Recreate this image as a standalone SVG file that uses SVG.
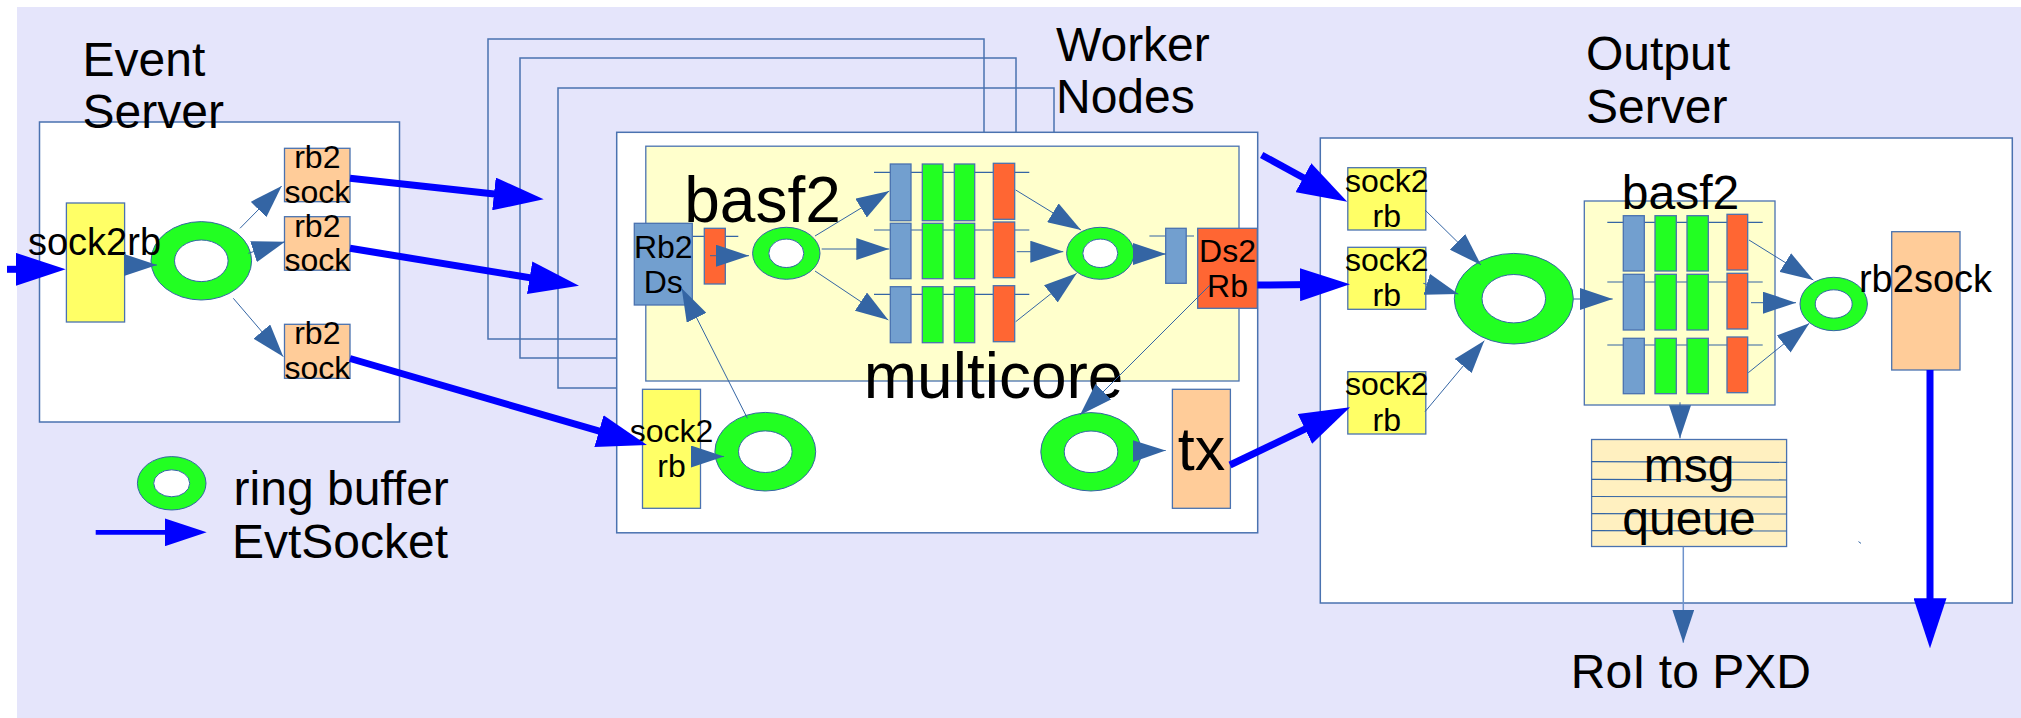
<svg xmlns="http://www.w3.org/2000/svg" width="2021" height="718" viewBox="0 0 2021 718">
<defs>
<style>
text{font-family:"Liberation Sans",Arial,sans-serif;fill:#000}
.big{font-size:48px}
.huge{font-size:64px}
.mid{font-size:38px}
.sm{font-size:32px}
.c{text-anchor:middle}
.frame{fill:none;stroke:#4a72b0;stroke-width:1.5}
.panel{fill:#fff;stroke:#4a72b0;stroke-width:1.5}
.b{stroke:#4a72b0;stroke-width:1.3}
.yel{fill:#ffff66}
.peach{fill:#ffcc99}
.pale{fill:#ffffcc}
.cream{fill:#fff0c0}
.blu{fill:#729fcf}
.grn{fill:#22ff22}
.org{fill:#ff6633}
.ro{fill:#22ff22;stroke:#3465a4;stroke-width:1}
.ri{fill:#fff;stroke:#3465a4;stroke-width:1}
.pl{stroke:#3465a4;stroke-width:1.2}
.cn{fill:none;stroke:#3465a4;stroke-width:1;marker-end:url(#ah)}
.cn2{fill:none;stroke:#6f93cc;stroke-width:1.5;marker-end:url(#ah)}
.evt{fill:none;stroke:#0000ff;stroke-width:7;marker-end:url(#ahb)}
.leg{fill:none;stroke:#0000ff;stroke-width:4.7;marker-end:url(#ahl)}
</style>
<marker id="ah" markerUnits="userSpaceOnUse" markerWidth="33" markerHeight="22" viewBox="0 0 33 22" refX="33" refY="11" orient="auto"><path d="M0,0L33,11L0,22z" fill="#3465a4"/></marker>
<marker id="ahb" markerUnits="userSpaceOnUse" markerWidth="50" markerHeight="33" viewBox="0 0 50 33" refX="12" refY="16.5" orient="auto"><path d="M0,0L50,16.5L0,33z" fill="#0000ff"/></marker>
<marker id="ahl" markerUnits="userSpaceOnUse" markerWidth="42" markerHeight="28" viewBox="0 0 42 28" refX="12" refY="14" orient="auto"><path d="M0,0L42,14L0,28z" fill="#0000ff"/></marker>
</defs>

<!-- page and backdrop -->
<rect x="0" y="0" width="2021" height="718" fill="#fff"/>
<rect x="17" y="7" width="2004" height="711" fill="#e5e5fb"/>

<!-- ===== Event Server ===== -->
<g id="event-server">
  <rect class="panel" x="39.5" y="122" width="360" height="300"/>
  <text class="big" x="82.5" y="76">Event</text>
  <text class="big" x="82.5" y="128">Server</text>
</g>
<g id="es-ring">
  <ellipse class="ro" cx="201.3" cy="260.8" rx="50.3" ry="39.2"/>
  <ellipse class="ri" cx="201.3" cy="260.8" rx="26.8" ry="20.8"/>
</g>
<g id="es-sock2rb">
  <rect class="b yel" x="66.4" y="203" width="58.2" height="119"/>
  <text class="mid c" x="94.5" y="255">sock2rb</text>
</g>
<g id="es-rb2sock-1">
  <rect class="b peach" x="284.5" y="148.3" width="65.5" height="53.4"/>
  <text class="sm c" x="317.3" y="168.3">rb2</text>
  <text class="sm c" x="317.3" y="202.7">sock</text>
</g>
<g id="es-rb2sock-2">
  <rect class="b peach" x="284.5" y="216.7" width="65.5" height="53.5"/>
  <text class="sm c" x="317.3" y="236.7">rb2</text>
  <text class="sm c" x="317.3" y="271.1">sock</text>
</g>
<g id="es-rb2sock-3">
  <rect class="b peach" x="284.5" y="324.3" width="65.5" height="54"/>
  <text class="sm c" x="317.3" y="344.3">rb2</text>
  <text class="sm c" x="317.3" y="378.7">sock</text>
</g>

<!-- ===== Worker Nodes ===== -->
<g id="worker-stack">
  <rect class="frame" x="488" y="39" width="496" height="300"/>
  <rect class="frame" x="520" y="58" width="496" height="300"/>
  <rect class="frame" x="558" y="88" width="496" height="300"/>
  <text class="big" x="1056" y="60.5">Worker</text>
  <text class="big" x="1056" y="113">Nodes</text>
</g>
<g id="worker">
  <rect class="panel" x="616.7" y="132.3" width="641" height="400.5"/>
</g>
<g id="w-basf2">
  <rect class="b pale" x="645.8" y="146.2" width="593.2" height="234.8"/>
  <text class="huge" x="684.2" y="221.7">basf2</text>
  <text class="huge" x="863.8" y="398.3">multicore</text>
</g>
<g id="w-rb2ds">
  <rect class="b blu" x="634.3" y="223.3" width="58" height="81.7"/>
  <text class="sm c" x="663.3" y="258.3">Rb2</text>
  <text class="sm c" x="663.3" y="292.7">Ds</text>
</g>
<g id="w-input">
  <line class="pl" x1="692.7" y1="236.3" x2="738.3" y2="236.3"/>
  <rect class="b org" x="704.3" y="228.3" width="21" height="55.7"/>
</g>
<g id="w-ring-in">
  <ellipse class="ro" cx="786.3" cy="253.3" rx="33.7" ry="26"/>
  <ellipse class="ri" cx="786.3" cy="253.3" rx="17.5" ry="14.2"/>
</g>
<g id="w-proc-1">
  <line class="pl" x1="874" y1="172.3" x2="1029.3" y2="172.3"/>
  <rect class="b blu" x="890.3" y="164" width="20.7" height="56.7"/>
  <rect class="b grn" x="922.3" y="164" width="20.7" height="56.7"/>
  <rect class="b grn" x="954.3" y="164" width="20.4" height="56.7"/>
  <rect class="b org" x="993.3" y="163.3" width="21.4" height="56"/>
</g>
<g id="w-proc-2">
  <line class="pl" x1="874" y1="230" x2="1029.3" y2="230"/>
  <rect class="b blu" x="890.3" y="223.3" width="20.7" height="55.4"/>
  <rect class="b grn" x="922.3" y="223.3" width="20.7" height="55.4"/>
  <rect class="b grn" x="954.3" y="223.3" width="20.4" height="55.4"/>
  <rect class="b org" x="993.3" y="222" width="21.4" height="55.7"/>
</g>
<g id="w-proc-3">
  <line class="pl" x1="874" y1="294.3" x2="1029.3" y2="294.3"/>
  <rect class="b blu" x="890.3" y="286.7" width="20.7" height="56"/>
  <rect class="b grn" x="922.3" y="286.7" width="20.7" height="56"/>
  <rect class="b grn" x="954.3" y="286.7" width="20.4" height="56"/>
  <rect class="b org" x="993.3" y="285.7" width="21.4" height="56"/>
</g>
<g id="w-ring-out">
  <ellipse class="ro" cx="1100.3" cy="253.3" rx="33.7" ry="26"/>
  <ellipse class="ri" cx="1100.3" cy="253.3" rx="17.5" ry="14.2"/>
</g>
<g id="w-output">
  <line class="pl" x1="1149.4" y1="236" x2="1194" y2="236"/>
  <rect class="b blu" x="1165.7" y="228.3" width="20.5" height="55"/>
</g>
<g id="w-ds2rb">
  <rect class="b org" x="1197.7" y="228.3" width="59.6" height="80"/>
  <text class="sm c" x="1227.5" y="261.7">Ds2</text>
  <text class="sm c" x="1227.5" y="297.3">Rb</text>
</g>
<g id="w-ring-rx">
  <ellipse class="ro" cx="765.3" cy="451.7" rx="50.4" ry="39.3"/>
  <ellipse class="ri" cx="765.3" cy="451.7" rx="26.8" ry="20.8"/>
</g>
<g id="w-sock2rb">
  <rect class="b yel" x="642.5" y="389.3" width="58" height="119"/>
  <text class="sm c" x="671.5" y="441.5">sock2</text>
  <text class="sm c" x="671.5" y="476.5">rb</text>
</g>
<g id="w-ring-tx">
  <ellipse class="ro" cx="1091" cy="451.8" rx="50.2" ry="39.2"/>
  <ellipse class="ri" cx="1091" cy="451.8" rx="26.8" ry="20.8"/>
</g>
<g id="w-tx">
  <rect class="b peach" x="1172.4" y="389.3" width="58" height="119"/>
  <text class="c" x="1201.5" y="470" font-size="61">tx</text>
</g>

<!-- ===== Output Server ===== -->
<g id="output-server">
  <rect class="panel" x="1320.3" y="138" width="692" height="465"/>
  <text class="big" x="1586" y="70">Output</text>
  <text class="big" x="1586" y="122.5">Server</text>
  <path d="M1858.5,541.6L1861,543.4" stroke="#3465a4" stroke-width="1"/>
</g>
<g id="o-sock2rb-1">
  <rect class="b yel" x="1347.8" y="167.7" width="78" height="62.3"/>
  <text class="sm c" x="1386.7" y="191.7">sock2</text>
  <text class="sm c" x="1386.7" y="227">rb</text>
</g>
<g id="o-sock2rb-2">
  <rect class="b yel" x="1347.8" y="247.3" width="78" height="62"/>
  <text class="sm c" x="1386.7" y="270.5">sock2</text>
  <text class="sm c" x="1386.7" y="306">rb</text>
</g>
<g id="o-sock2rb-3">
  <rect class="b yel" x="1347.8" y="371.7" width="78" height="62.3"/>
  <text class="sm c" x="1386.7" y="395.3">sock2</text>
  <text class="sm c" x="1386.7" y="430.7">rb</text>
</g>
<g id="o-ring-in">
  <ellipse class="ro" cx="1513.8" cy="298.7" rx="59.5" ry="45.3"/>
  <ellipse class="ri" cx="1513.8" cy="298.7" rx="31.8" ry="24.2"/>
</g>
<g id="o-basf2">
  <rect class="b pale" x="1584.3" y="201" width="190.7" height="204"/>
  <line class="pl" x1="1607.3" y1="222.3" x2="1762.7" y2="222.3"/>
  <line class="pl" x1="1607.3" y1="282" x2="1762.7" y2="282"/>
  <line class="pl" x1="1607.3" y1="345" x2="1762.7" y2="345"/>
  <rect class="b blu" x="1623.3" y="215.7" width="21" height="55.3"/>
  <rect class="b grn" x="1655" y="215.7" width="21.3" height="55.3"/>
  <rect class="b grn" x="1687" y="215.7" width="21.3" height="55.3"/>
  <rect class="b org" x="1727" y="214.3" width="20.7" height="55.7"/>
  <rect class="b blu" x="1623.3" y="274.3" width="21" height="55.7"/>
  <rect class="b grn" x="1655" y="274.3" width="21.3" height="55.7"/>
  <rect class="b grn" x="1687" y="274.3" width="21.3" height="55.7"/>
  <rect class="b org" x="1727" y="273.3" width="20.7" height="55.7"/>
  <rect class="b blu" x="1623.3" y="338.3" width="21" height="55.4"/>
  <rect class="b grn" x="1655" y="338.3" width="21.3" height="55.4"/>
  <rect class="b grn" x="1687" y="338.3" width="21.3" height="55.4"/>
  <rect class="b org" x="1727" y="337" width="20.7" height="55.7"/>
  <text class="big" x="1621.8" y="209">basf2</text>
</g>
<g id="o-ring-out">
  <ellipse class="ro" cx="1833.7" cy="304" rx="33.7" ry="26.7"/>
  <ellipse class="ri" cx="1833.7" cy="304" rx="18.5" ry="14.2"/>
</g>
<g id="o-rb2sock">
  <rect class="b peach" x="1891.7" y="231.7" width="68.3" height="138.3"/>
  <text class="mid c" x="1925.5" y="292.3">rb2sock</text>
</g>
<g id="o-msg-queue">
  <rect class="b cream" x="1591.6" y="439.5" width="195" height="107"/>
  <line class="pl" x1="1591.6" y1="461.7" x2="1786.6" y2="462.3"/>
  <line class="pl" x1="1591.6" y1="479.3" x2="1786.6" y2="480"/>
  <line class="pl" x1="1591.6" y1="496.5" x2="1786.6" y2="497"/>
  <line class="pl" x1="1591.6" y1="513.6" x2="1786.6" y2="514"/>
  <line class="pl" x1="1591.6" y1="530.7" x2="1786.6" y2="531"/>
  <text class="big c" x="1689" y="482">msg</text>
  <text class="big c" x="1689" y="534.5">queue</text>
</g>
<g id="roi-to-pxd">
  <text class="big" x="1570.8" y="687.7">RoI to PXD</text>
</g>

<!-- legend -->
<g id="legend">
  <ellipse class="ro" cx="171.7" cy="483.3" rx="34.3" ry="26.7"/>
  <ellipse class="ri" cx="171.7" cy="483.3" rx="18" ry="13.5"/>
  <path class="leg" d="M95.7,532.3L176.7,532.3"/>
  <text class="big" x="233.6" y="505">ring buffer</text>
  <text class="big" x="231.9" y="558.3">EvtSocket</text>
</g>

<!-- ===== connectors ===== -->
<g id="connectors">
  <!-- event server internals -->
  <path class="cn" d="M124,265L157,265"/>
  <path class="cn" d="M240,228.3L281.7,186"/>
  <path class="cn" d="M248.3,253.3L285,241.7"/>
  <path class="cn" d="M233.3,298.3L283.3,356.7"/>
  <!-- worker internals -->
  <path class="cn" d="M710,255.7L749,255.7"/>
  <path class="cn" d="M815,236L889.3,191"/>
  <path class="cn" d="M821.7,249L889.3,249"/>
  <path class="cn" d="M815,271L888.3,320"/>
  <path class="cn" d="M1015.7,190L1081,230"/>
  <path class="cn" d="M1016.7,251.7L1063.3,251.7"/>
  <path class="cn" d="M1015.7,321.7L1076.7,273.3"/>
  <path class="cn" d="M1133,254L1166,254"/>
  <path class="cn" d="M747.4,418.3L681.7,288.3"/>
  <path class="cn" d="M1210,285L1080,415"/>
  <path class="cn" d="M691,456.5L724,456.5"/>
  <path class="cn" d="M1133,451L1165.7,450.5"/>
  <!-- output server internals -->
  <path class="cn" d="M1425,210L1481,265"/>
  <path class="cn" d="M1423.3,283.3L1458.3,294"/>
  <path class="cn" d="M1425,411.7L1484.3,340.7"/>
  <path class="cn" d="M1573.3,299L1612.7,299"/>
  <path class="cn" d="M1749,240L1813.3,280"/>
  <path class="cn" d="M1751,302.7L1796,302.7"/>
  <path class="cn" d="M1748.3,372.7L1809.3,323.3"/>
  <path class="cn" d="M1680,402.3L1680,438.3"/>
  <path class="cn2" d="M1683.3,546.7L1683.3,642.7"/>
  <!-- EvtSocket links -->
  <path class="evt" d="M7,269.3L27.7,269.3"/>
  <path class="evt" d="M350,178.3L505.9,195.2"/>
  <path class="evt" d="M350,248.3L541.5,279.6"/>
  <path class="evt" d="M350,358.5L610.5,434.4"/>
  <path class="evt" d="M1261.7,155L1313.9,183.5"/>
  <path class="evt" d="M1257.3,285L1312,284.6"/>
  <path class="evt" d="M1230,465L1315.8,423.8"/>
  <path class="evt" d="M1930,370L1930,610.3"/>
</g>
</svg>
